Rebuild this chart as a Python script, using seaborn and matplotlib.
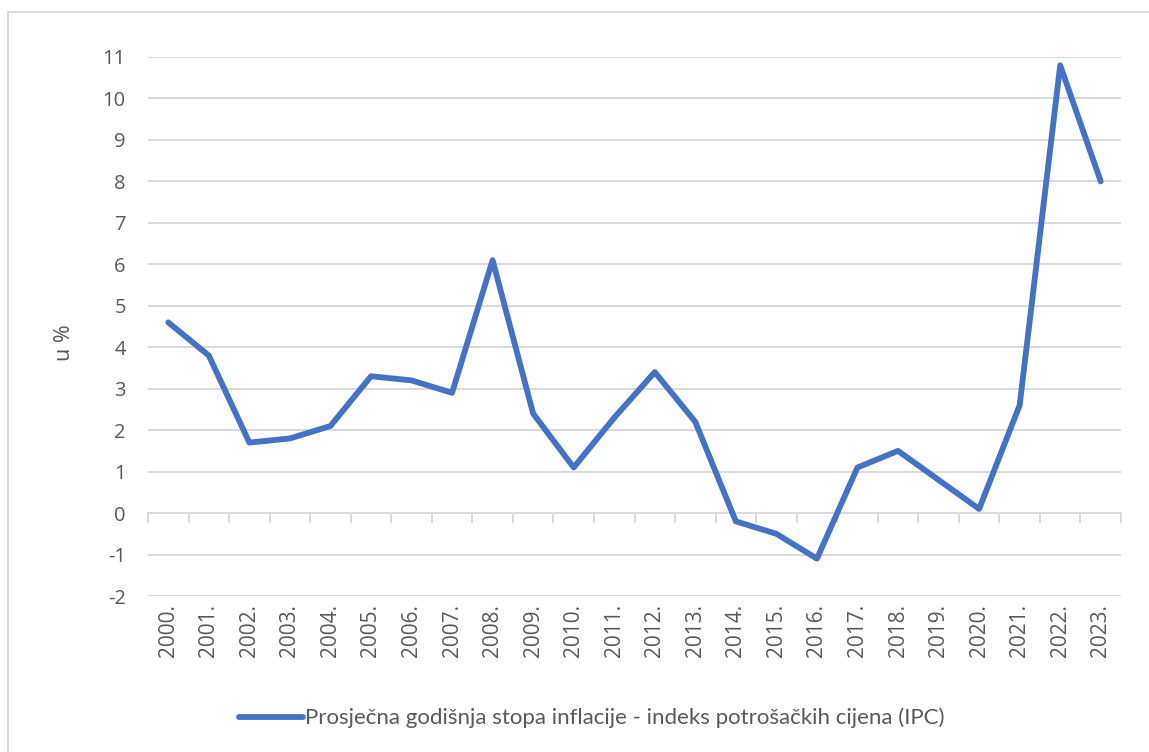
import matplotlib
matplotlib.use("Agg")
import matplotlib.pyplot as plt
import seaborn as sns
import pandas as pd
from matplotlib.patches import Rectangle

years = ["2000.", "2001.", "2002.", "2003.", "2004.", "2005.", "2006.", "2007.",
         "2008.", "2009.", "2010.", "2011.", "2012.", "2013.", "2014.", "2015.",
         "2016.", "2017.", "2018.", "2019.", "2020.", "2021.", "2022.", "2023."]
inflation = [4.6, 3.8, 1.7, 1.8, 2.1, 3.3, 3.2, 2.9, 6.1, 2.4, 1.1, 2.3,
             3.4, 2.2, -0.2, -0.5, -1.1, 1.1, 1.5, 0.8, 0.1, 2.6, 10.8, 8.0]
series_name = "Prosječna godišnja stopa inflacije - indeks potrošačkih cijena (IPC)"
y_ticks = list(range(-2, 12))

df = pd.DataFrame({"godina": years, "stopa": inflation})
df["pos"] = range(len(df))

sns.set_theme(style="white")
plt.rcParams["font.family"] = ["Open Sans", "DejaVu Sans"]

W, H = 1149, 752
fig = plt.figure(figsize=(W / 100, H / 100), dpi=100)
ax = fig.add_axes([148 / W, 1 - 596 / H, (1121 - 148) / W, (596 - 57) / H])

grid_c = "#d9d9d9"
text_c = "#595959"
line_c = "#4472C4"

for v in y_ticks:
    if v != 0:
        ax.axhline(v, color=grid_c, lw=1.4, zorder=0)

sns.lineplot(data=df, x="pos", y="stopa", ax=ax, color=line_c, lw=4.2,
             solid_capstyle="round", solid_joinstyle="round", label=series_name,
             legend=False, zorder=3)

ax.set_xlim(-0.5, len(years) - 0.5)
ax.set_ylim(-2, 11)
ax.set_yticks(y_ticks)
ax.set_yticklabels([str(v) for v in y_ticks], fontsize=14.5, color=text_c)
ax.set_xticks(df["pos"])
ax.set_xticklabels(years, rotation=90, fontsize=15, color=text_c)
ax.tick_params(axis="both", length=0)
ax.tick_params(axis="x", pad=6)
ax.tick_params(axis="y", pad=16)
for s in ax.spines.values():
    s.set_visible(False)
ax.set_xlabel("")
ax.set_ylabel("u %", fontsize=15.5, color=text_c, labelpad=14)
ax.yaxis.set_label_coords(-0.075, 0.47)

# category axis drawn at y = 0
sec = ax.secondary_xaxis(2 / 13)
sec.set_xticks([i - 0.5 for i in range(len(years) + 1)])
sec.set_xticklabels([])
sec.tick_params(length=7, width=1.4, color=grid_c, direction="out")
sec.spines["bottom"].set_color(grid_c)
sec.spines["bottom"].set_linewidth(1.4)
for k in ["top", "left", "right"]:
    sec.spines[k].set_visible(False)

handles, labels = ax.get_legend_handles_labels()
leg = fig.legend(handles, labels, loc="center", bbox_to_anchor=(0.515, 1 - 718 / H),
                 frameon=False, handlelength=2.9, handletextpad=0.1,
                 prop={"family": ["Lato", "DejaVu Sans"], "size": 16})
for t in leg.get_texts():
    t.set_color(text_c)

fig.patches.append(Rectangle((8 / W, -0.05), 1.2, 1 - 12 / H + 0.05,
                             transform=fig.transFigure, fill=False,
                             edgecolor=grid_c, lw=1.4))

fig.savefig("out.png", dpi=100, facecolor="white")
